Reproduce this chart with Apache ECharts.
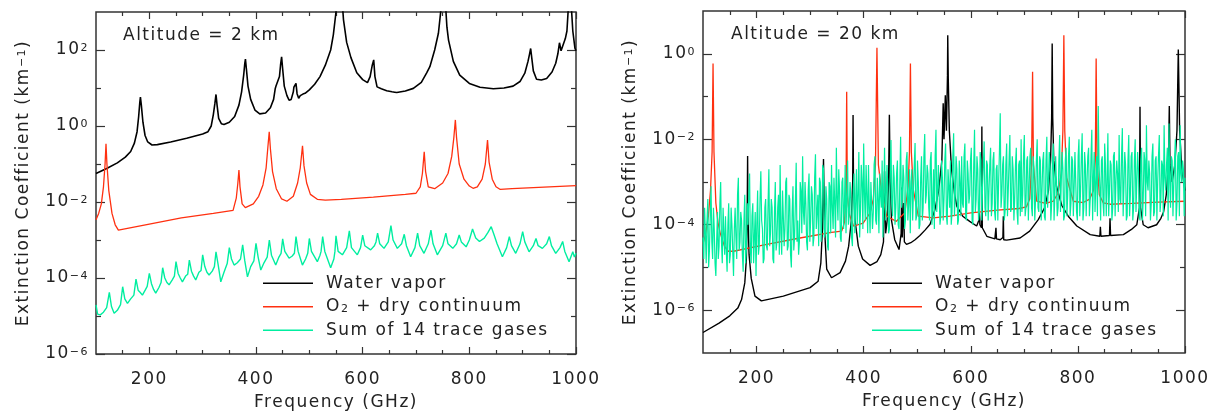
<!DOCTYPE html>
<html><head><meta charset="utf-8">
<script src="https://cdn.jsdelivr.net/npm/echarts@6.0.0/dist/echarts.min.js"></script>
<style>html,body{margin:0;padding:0;background:#fff}#c{width:1216px;height:412px}</style>
</head><body><div id="c"></div>
<script>
// ---------- DATA (frequency GHz, log10 of extinction coefficient km^-1) ----------
const panelTitles = ['Altitude = 2 km', 'Altitude = 20 km'];
const seriesNames = ['Water vapor', 'O2 + dry continuum', 'Sum of 14 trace gases'];
const xMajorTicks = [200, 400, 600, 800, 1000];
const xMinorTicks = [150, 250, 300, 350, 450, 500, 550, 650, 700, 750, 850, 900, 950];
const yMajorTicks2 = [1e-6, 1e-4, 1e-2, 1, 1e2];
const yMinorTicks2 = [1e-5, 1e-3, 1e-1, 10];
const yMajorTicks20 = [1e-6, 1e-4, 1e-2, 1];
const yMinorTicks20 = [1e-5, 1e-3, 1e-1];

// Altitude 2 km
const wv2 = [[100,-1.25],[120,-1.12],[140,-0.97],[155,-0.82],[165,-0.67],[172,-0.45],[177,-0.15],[180,0.25],[182,0.6],[183.3,0.76],[185,0.55],[188,0.1],[192,-0.25],[197,-0.42],[205,-0.5],[215,-0.49],[240,-0.42],[270,-0.32],[300,-0.21],[310,-0.15],[316,0.0],[320,0.3],[323,0.6],[325,0.83],[327,0.55],[330,0.2],[335,0.06],[340,0.04],[350,0.1],[360,0.25],[368,0.55],[373,0.9],[377,1.35],[379,1.65],[380.2,1.76],[382,1.5],[385,1.05],[390,0.7],[398,0.42],[407,0.32],[418,0.34],[427,0.48],[433,0.7],[436,0.98],[437.5,1.05],[440,1.0],[444,1.3],[446,1.6],[448,1.82],[450,1.5],[453,1.05],[458,0.8],[462,0.68],[466,0.7],[470,0.9],[471,1.02],[473,0.98],[475,1.12],[477,0.85],[480,0.73],[483,0.8],[488,0.84],[492,0.86],[500,0.95],[510,1.1],[520,1.3],[530,1.6],[540,2.0],[545,2.4],[550,3.0],[554,3.6],[557,4.0],[560,3.6],[564,2.8],[570,2.2],[578,1.8],[589,1.4],[600,1.22],[609,1.14],[614,1.3],[618,1.6],[620.7,1.74],[623,1.3],[627,1.03],[635,0.98],[645,0.93],[655,0.9],[658,0.93],[660,0.89],[664,0.88],[680,0.92],[695,0.99],[710,1.15],[720,1.4],[726,1.56],[735,2.0],[742,2.44],[747,3.1],[751,3.8],[752,4.0],[754,3.5],[758,2.6],[761,2.26],[770,1.7],[782,1.34],[800,1.12],[820,1.02],[845,0.98],[865,1.0],[882,1.05],[895,1.17],[904,1.39],[910,1.7],[913,1.9],[915,2.04],[917,1.8],[920,1.45],[926,1.23],[935,1.21],[945,1.25],[955,1.42],[962,1.65],[966,1.9],[969,2.19],[972,1.98],[975,1.96],[980,2.3],[983,2.5],[986,3.2],[988,4.0],[991,3.2],[994,2.5],[998,2.05],[1000,1.98]];
const o22 = [[100,-2.47],[105,-2.3],[110,-2.05],[114,-1.6],[117,-1.0],[118.75,-0.47],[120.5,-1.0],[124,-1.7],[130,-2.3],[136,-2.6],[142,-2.74],[200,-2.58],[260,-2.42],[320,-2.3],[357,-2.22],[363,-1.9],[366,-1.5],[368,-1.16],[370,-1.6],[374,-2.05],[380,-2.15],[395,-2.05],[405,-1.85],[413,-1.55],[419,-1.1],[422,-0.6],[424.8,-0.15],[427,-0.6],[431,-1.2],[438,-1.65],[448,-1.92],[458,-1.98],[470,-1.85],[478,-1.5],[483,-1.1],[487.2,-0.52],[490,-1.05],[495,-1.5],[502,-1.8],[515,-1.93],[530,-1.95],[560,-1.93],[620,-1.87],[680,-1.8],[700,-1.77],[708,-1.6],[712,-1.25],[715.4,-0.68],[718,-1.2],[723,-1.6],[735,-1.65],[750,-1.5],[760,-1.25],[767,-0.8],[771,-0.3],[773.8,0.16],[776,-0.3],[781,-1.0],[790,-1.4],[800,-1.58],[807,-1.64],[815,-1.6],[824,-1.4],[830,-1.0],[834.1,-0.37],[837,-0.95],[843,-1.4],[850,-1.6],[858,-1.67],[880,-1.65],[940,-1.61],[1000,-1.57]];
const tg2 = [[100,-4.71],[103,-4.95],[108,-4.97],[114,-4.9],[120,-4.78],[125,-4.38],[129,-4.75],[134,-4.93],[140,-4.85],[146,-4.7],[150,-4.23],[154,-4.55],[159,-4.67],[165,-4.55],[171,-4.45],[175,-4.03],[179,-4.32],[183,-4.38],[187,-4.45],[193,-4.3],[196,-4.22],[200,-3.88],[204,-4.15],[208,-4.3],[212,-4.4],[218,-4.25],[222,-4.12],[225,-3.73],[229,-4.0],[233,-4.12],[237,-4.18],[243,-4.05],[247,-3.95],[250,-3.57],[254,-3.88],[258,-4.0],[262,-4.1],[268,-3.95],[272,-3.9],[275,-3.53],[279,-3.82],[283,-3.95],[287,-4.05],[293,-3.85],[297,-3.8],[300,-3.39],[304,-3.7],[308,-3.85],[312,-3.92],[318,-3.82],[322,-3.7],[325,-3.31],[329,-3.65],[334,-4.1],[340,-3.85],[346,-3.62],[350,-3.2],[354,-3.5],[359,-3.66],[365,-3.6],[371,-3.5],[375,-3.13],[379,-3.55],[384,-3.97],[390,-3.7],[396,-3.55],[400,-3.09],[404,-3.45],[409,-3.79],[415,-3.6],[421,-3.45],[425,-3.0],[429,-3.4],[437,-3.66],[443,-3.45],[447,-3.35],[450,-2.97],[454,-3.3],[462,-3.48],[468,-3.42],[472,-3.35],[475,-2.91],[479,-3.3],[487,-3.66],[493,-3.5],[497,-3.35],[500,-2.96],[504,-3.3],[515,-3.57],[520,-3.4],[522,-3.3],[525,-2.91],[529,-3.3],[540,-3.73],[546,-3.5],[548,-3.3],[550,-2.89],[554,-3.3],[562,-3.39],[570,-3.2],[575,-2.76],[579,-3.2],[590,-3.39],[596,-3.2],[600,-2.87],[604,-3.15],[615,-3.26],[622,-3.15],[625,-3.05],[628,-2.82],[632,-3.1],[640,-3.22],[648,-3.05],[653,-2.62],[657,-3.0],[665,-3.22],[673,-3.1],[678,-2.85],[682,-3.15],[690,-3.44],[698,-3.2],[703,-2.82],[707,-3.15],[715,-3.35],[723,-3.1],[728,-2.74],[732,-3.1],[740,-3.39],[750,-3.15],[756,-2.82],[760,-3.1],[769,-3.22],[776,-3.1],[781,-2.87],[785,-3.05],[794,-3.18],[800,-3.0],[806,-2.71],[812,-2.95],[819,-3.04],[828,-2.95],[835,-2.8],[841,-2.65],[846,-2.85],[852,-3.1],[862,-3.44],[870,-3.2],[875,-2.91],[879,-3.15],[887,-3.35],[895,-3.1],[900,-2.78],[904,-3.05],[912,-3.31],[920,-3.15],[925,-2.96],[929,-3.15],[937,-3.22],[945,-3.1],[950,-2.91],[954,-3.15],[962,-3.35],[970,-3.2],[975,-3.04],[979,-3.3],[987,-3.57],[994,-3.31],[997,-3.45],[1000,-3.35]];

// Altitude 20 km
const wv20 = [[100,-6.52],[130,-6.3],[150,-6.13],[165,-5.95],[172,-5.75],[178,-5.36],[181,-4.8],[182.5,-3.8],[183.3,-2.39],[184,-3.8],[186,-4.7],[190,-5.25],[197,-5.67],[209,-5.78],[250,-5.67],[300,-5.47],[315,-5.32],[320,-4.9],[323,-4.1],[325,-2.46],[327,-4.1],[331,-5.04],[340,-5.24],[356,-5.12],[366,-4.85],[372,-4.5],[377,-3.9],[379.5,-3.0],[380.2,-1.43],[381,-3.0],[384,-3.9],[390,-4.5],[398,-4.8],[412,-4.95],[425,-4.86],[432,-4.7],[437,-4.4],[439,-2.75],[441,-4.2],[444,-3.9],[446.5,-3.0],[448,-1.43],[449.5,-3.0],[452,-3.9],[458,-4.35],[466,-4.58],[470,-4.2],[471,-3.13],[472,-4.3],[474,-4.3],[474.7,-3.49],[476,-4.4],[480,-4.46],[488,-4.42],[496,-4.35],[505,-4.25],[515,-4.12],[524,-3.99],[533,-3.65],[540,-3.2],[546,-2.5],[548.5,-1.16],[550,-2.0],[552.5,-0.97],[554.5,-1.8],[556.5,-0.5],[557,0.43],[558,-0.6],[560,-1.8],[564,-2.7],[570,-3.3],[574,-3.57],[585,-3.8],[598,-3.92],[611,-4.03],[615,-3.9],[616,-3.72],[617,-4.0],[620,-4.07],[620.7,-1.70],[621.5,-4.07],[630,-4.27],[645,-4.33],[647,-4.07],[648,-4.33],[655,-4.35],[660,-4.3],[660.8,-3.8],[661.5,-4.35],[667,-4.36],[692,-4.31],[710,-4.15],[726,-3.88],[738,-3.6],[745,-3.2],[749,-2.5],[751,-1.5],[752,0.24],[753,-1.5],[755,-2.5],[760,-3.1],[770,-3.55],[782,-3.8],[798,-4.03],[823,-4.23],[841,-4.27],[842,-4.05],[843,-4.27],[859,-4.25],[860,-3.85],[861,-4.25],[885,-4.23],[900,-4.11],[910,-4.0],[915,-3.6],[916,-1.24],[917,-3.6],[922,-4.0],[931,-4.07],[947,-4.0],[955,-3.85],[960,-3.7],[965,-3.3],[969,-2.6],[970.7,-1.22],[972,-2.6],[976,-3.0],[981,-2.6],[985,-1.8],[987.5,0.1],[990,-1.8],[994,-2.7],[1000,-3.2]];
const o220 = [[100,-4.45],[105,-4.2],[110,-3.8],[114,-3.2],[117,-2.3],[118.75,-0.23],[120.5,-2.3],[124,-3.49],[128,-3.95],[132,-4.19],[140,-4.5],[147,-4.62],[157,-4.62],[219,-4.46],[281,-4.31],[340,-4.18],[359,-4.15],[364,-3.95],[367,-3.3],[368.3,-0.89],[369.5,-3.3],[373,-3.75],[381,-4.03],[399,-3.96],[412,-3.72],[418,-3.4],[422,-2.6],[424.8,0.14],[427.5,-2.6],[433,-3.18],[443,-3.8],[461,-3.92],[477,-3.72],[483,-3.1],[485.5,-2.3],[487.3,-0.23],[489,-2.3],[492.7,-3.18],[502,-3.8],[530,-3.84],[561,-3.8],[600,-3.72],[650,-3.66],[690,-3.62],[704,-3.58],[710,-3.4],[713.5,-2.6],[715.4,-0.42],[717,-2.6],[723,-3.45],[740,-3.5],[754,-3.45],[763,-3.26],[769,-2.8],[772,-1.8],[773.8,0.43],[775.5,-1.8],[779,-2.9],[791.5,-3.45],[810,-3.48],[822,-3.4],[829,-3.2],[832.5,-2.5],[834.1,-0.11],[835.7,-2.5],[840,-3.3],[847.5,-3.49],[860,-3.52],[900,-3.5],[950,-3.47],[1000,-3.45]];
// trace gases at 20 km: tg20A sampled at 100, 103, ... 1000 GHz; tg20B at the midpoints 101.5, 104.5, ... 998.5 GHz
const tg20Start = 100, tg20Step = 3;
const tg20A = [
-4.3,-3.6,-4.9,-3.4,-4.6,-3.1,-4.8,-4.1,-5.2,-3.7,-4.5,-3.0,-4.9,-4.2,-3.8,-5.1,-3.5,-4.7,-4.0,-5.2,
-3.6,-4.8,-2.9,-4.4,-3.9,-5.1,-3.3,-4.6,-4.0,-2.8,-4.9,-3.5,-4.3,-5.2,-3.2,-4.5,-2.75,-4.1,-4.8,-3.4,
-4.6,-2.7,-4.2,-3.6,-4.9,-3.0,-4.4,-3.3,-2.6,-4.7,-3.8,-4.1,-2.9,-4.5,-3.4,-5.0,-3.1,-4.3,-2.55,-3.9,
-4.4,-3.2,-2.4,-4.0,-3.5,-4.6,-2.8,-3.9,-3.3,-4.3,-2.35,-3.7,-4.5,-3.0,-3.8,-2.7,-4.2,-3.4,-4.6,-3.1,
-2.6,-4.1,-3.5,-2.2,-3.9,-3.2,-4.4,-2.9,-3.6,-4.2,-2.5,-3.8,-3.3,-4.5,-2.8,-3.5,-4.0,-2.3,-3.7,-3.0,
-2.1,-3.9,-3.3,-2.6,-4.2,-3.0,-3.7,-2.4,-4.0,-3.4,-2.8,-3.6,-4.3,-2.2,-3.5,-3.1,-4.1,-2.02,-3.8,-2.9,
-3.6,-2.5,-4.1,-1.94,-3.4,-2.9,-3.9,-2.3,-3.5,-4.2,-2.7,-3.2,-2.09,-3.8,-3.0,-4.0,-2.4,-3.6,-1.88,-3.3,
-2.8,-3.9,-2.3,-3.5,-4.1,-1.78,-3.2,-2.6,-3.8,-2.9,-3.4,-2.1,-4.0,-3.1,-2.5,-3.7,-1.86,-3.3,-2.7,-3.9,
-3.0,-2.4,-3.6,-2.1,-3.9,-2.8,-3.3,-2.2,-4.0,-1.78,-3.4,-2.7,-3.7,-2.5,-3.1,-2.05,-3.8,-2.6,-3.2,-2.2,
-3.5,-2.3,-3.9,-2.6,-3.0,-1.39,-3.3,-2.4,-3.7,-2.1,-3.2,-1.9,-3.6,-2.7,-3.4,-2.2,-4.0,-2.5,-2.0,-3.3,
-1.9,-3.6,-2.4,-3.1,-2.2,-3.8,-2.7,-3.4,-2.0,-3.7,-2.5,-3.2,-2.3,-3.9,-1.94,-3.0,-2.6,-3.5,-2.1,-3.3,
-2.4,-3.6,-1.9,-3.0,-2.7,-3.8,-2.2,-3.3,-1.94,-3.5,-2.5,-3.1,-2.3,-3.9,-2.0,-3.2,-1.86,-3.6,-2.6,-3.0,
-2.2,-3.4,-1.78,-2.9,-3.7,-2.4,-1.22,-3.1,-2.5,-3.5,-2.1,-3.8,-1.86,-3.2,-2.6,-3.6,-2.3,-3.0,-2.8,-1.9,
-3.5,-1.74,-3.1,-2.6,-3.8,-1.9,-3.3,-2.3,-3.6,-2.0,-3.0,-2.7,-3.9,-2.2,-3.4,-2.5,-1.67,-3.2,-2.8,-3.5,
-2.1,-3.7,-2.4,-3.0,-1.9,-3.4,-2.6,-1.67,-3.2,-2.2,-1.63,-3.6,-2.5,-3.1,-2.0,-3.5,-2.3,-1.67,-3.0,-2.7,
-2.9];
const tg20B = [
-4.8,-4.2,-3.9,-5.0,-3.8,-4.4,-3.6,-4.9,-4.4,-4.8,-3.5,-4.4,-3.6,-4.7,-4.6,-4.0,-4.9,-3.6,-4.6,-4.1,
-4.3,-3.3,-4.6,-3.7,-4.7,-3.9,-4.9,-3.5,-3.3,-4.6,-3.8,-4.9,-3.7,-4.0,-4.7,-3.4,-3.9,-4.9,-3.6,-4.5,
-3.5,-4.5,-3.4,-4.8,-3.7,-4.6,-3.6,-4.7,-4.2,-3.2,-4.5,-3.0,-4.6,-3.3,-4.7,-3.7,-4.6,-3.5,-4.4,-4.7,
-3.0,-4.2,-3.7,-3.0,-4.4,-3.2,-4.4,-3.1,-4.5,-2.9,-4.1,-3.3,-2.9,-4.4,-2.6,-4.3,-3.1,-4.5,-3.0,-4.2,
-3.6,-2.9,-4.3,-3.4,-2.7,-4.3,-3.0,-4.1,-2.6,-3.4,-4.0,-3.0,-4.3,-3.2,-4.2,-2.7,-3.3,-4.3,-2.6,-4.1,
-3.3,-2.6,-4.2,-3.6,-3.0,-4.1,-2.6,-3.9,-2.9,-4.2,-3.3,-2.5,-3.4,-3.9,-2.6,-4.2,-2.8,-3.5,-2.6,-4.0,
-2.8,-4.0,-3.0,-3.6,-2.6,-4.1,-2.5,-3.9,-2.7,-3.0,-3.9,-2.6,-3.9,-2.5,-4.1,-2.9,-3.9,-2.4,-3.5,-2.6,
-3.6,-2.5,-4.0,-2.7,-2.4,-3.7,-2.6,-4.0,-2.5,-3.9,-2.5,-3.8,-2.7,-3.6,-4.0,-2.4,-3.8,-2.4,-4.0,-2.5,
-3.8,-3.5,-2.4,-3.8,-2.5,-3.5,-2.5,-3.9,-2.6,-3.7,-2.4,-3.9,-2.3,-3.9,-2.6,-3.6,-2.5,-3.9,-2.6,-3.8,
-2.5,-3.7,-2.7,-3.9,-2.3,-3.6,-2.6,-3.9,-2.6,-3.8,-2.5,-3.7,-2.4,-3.9,-2.6,-3.7,-2.6,-3.8,-3.7,-2.4,
-3.8,-2.5,-3.9,-2.4,-3.6,-2.4,-3.9,-2.5,-3.6,-2.4,-3.9,-2.5,-3.8,-2.5,-3.6,-2.3,-3.9,-2.5,-3.9,-2.4,
-3.8,-2.5,-3.7,-2.3,-3.9,-2.5,-3.8,-2.4,-3.8,-2.4,-3.8,-2.3,-3.7,-2.4,-3.8,-2.4,-3.9,-2.3,-3.8,-2.4,
-3.8,-2.4,-3.9,-2.3,-3.0,-3.8,-2.6,-3.9,-2.4,-3.8,-2.6,-3.0,-3.8,-2.5,-3.9,-2.4,-3.8,-2.5,-3.7,-3.4,
-2.4,-3.8,-2.3,-3.9,-2.5,-3.8,-2.4,-3.9,-2.5,-3.7,-2.3,-3.8,-2.5,-3.9,-2.3,-3.8,-3.0,-2.5,-3.9,-2.4,
-3.8,-2.5,-3.9,-2.4,-3.7,-2.5,-3.8,-2.9,-2.6,-3.9,-3.0,-2.4,-3.8,-2.5,-3.9,-2.4,-3.8,-2.8,-2.5,-3.8];

// wider letter spacing (like the original plotting font), restored after each text call
(function(){
  const P = CanvasRenderingContext2D.prototype, LS = '1.5px';
  if (!('letterSpacing' in P)) return;
  const f = P.fillText, m = P.measureText;
  P.fillText = function(){ const o = this.letterSpacing; this.letterSpacing = LS; try { return f.apply(this, arguments); } finally { this.letterSpacing = o; } };
  P.measureText = function(){ const o = this.letterSpacing; this.letterSpacing = LS; try { return m.apply(this, arguments); } finally { this.letterSpacing = o; } };
})();

const FONT = 'DejaVu Sans', TXT = '#222', FS = 17, AX = '#333';
const toPts = arr => arr.map(p => [p[0], Math.pow(10, p[1])]);
const tg20Pts = [];
tg20A.forEach((e, i) => {
  tg20Pts.push([tg20Start + i * tg20Step, Math.pow(10, e)]);
  if (i < tg20B.length) tg20Pts.push([tg20Start + i * tg20Step + tg20Step / 2, Math.pow(10, tg20B[i])]);
});

const supRich = {
  b: {fontSize: FS, lineHeight: 16, fontFamily: FONT, color: TXT},
  s: {fontSize: 11, lineHeight: 11, verticalAlign: 'top', fontFamily: FONT, color: TXT}
};
function expLabel(v){
  const e = Math.round(Math.log10(v));
  return '{b|10}{s|' + (e < 0 ? '\u2212' + (-e) : String(e)) + '}';
}
const rects = [{left: 96, top: 12, width: 480, height: 342}, {left: 703, top: 11, width: 482, height: 342}];
const grids = [
  Object.assign({show: true, borderColor: AX, borderWidth: 1.5, backgroundColor: 'transparent', containLabel: false, outerBoundsMode: 'none'}, rects[0]),
  Object.assign({show: false, containLabel: false, outerBoundsMode: 'none'}, rects[0]),
  Object.assign({show: true, borderColor: AX, borderWidth: 1.5, backgroundColor: 'transparent', containLabel: false, outerBoundsMode: 'none'}, rects[1]),
  Object.assign({show: false, containLabel: false, outerBoundsMode: 'none'}, rects[1])
];
function xAx(grid, pos, ticks, len, withLabel){
  const a = {gridIndex: grid, type: 'value', position: pos, min: 100, max: 1000,
    splitLine: {show: false},
    axisLine: {show: false, onZero: false},
    axisTick: {show: true, inside: true, length: len, customValues: ticks, lineStyle: {color: AX, width: 1.2}},
    axisLabel: {show: false}};
  if (withLabel) {
    a.axisLabel = {show: true, customValues: ticks, formatter: v => String(v), fontSize: FS, fontFamily: FONT, color: TXT, margin: 16};
    a.name = 'Frequency (GHz)'; a.nameLocation = 'middle'; a.nameGap = 38;
    a.nameTextStyle = {fontSize: FS, fontFamily: FONT, color: TXT};
  }
  return a;
}
function yAx(grid, pos, ticks, len, min, max, withLabel){
  const a = {gridIndex: grid, type: 'log', logBase: 10, position: pos, min: min, max: max,
    splitLine: {show: false},
    axisLine: {show: false, onZero: false},
    axisTick: {show: true, inside: true, length: len, customValues: ticks, lineStyle: {color: AX, width: 1.2}},
    axisLabel: {show: false}};
  if (withLabel) {
    a.axisLabel = {show: true, customValues: ticks, formatter: expLabel, rich: supRich, margin: 7, fontSize: FS, fontFamily: FONT, color: TXT};
    a.name = '{b|Extinction Coefficient (km}{s|\u22121}{b|)}'; a.nameLocation = 'middle'; a.nameGap = 64;
    a.nameTextStyle = {fontSize: FS, fontFamily: FONT, color: TXT, rich: supRich};
  }
  return a;
}
const xAxis = [
  xAx(0, 'bottom', xMajorTicks, 7, true), xAx(0, 'top', xMajorTicks, 7, false),
  xAx(1, 'bottom', xMinorTicks, 4, false), xAx(1, 'top', xMinorTicks, 4, false),
  xAx(2, 'bottom', xMajorTicks, 7, true), xAx(2, 'top', xMajorTicks, 7, false),
  xAx(3, 'bottom', xMinorTicks, 4, false), xAx(3, 'top', xMinorTicks, 4, false)
];
const yAxis = [
  yAx(0, 'left', yMajorTicks2, 9, 1e-6, 1e3, true), yAx(0, 'right', yMajorTicks2, 9, 1e-6, 1e3, false),
  yAx(1, 'left', yMinorTicks2, 5, 1e-6, 1e3, false), yAx(1, 'right', yMinorTicks2, 5, 1e-6, 1e3, false),
  yAx(2, 'left', yMajorTicks20, 9, 1e-7, 1e1, true), yAx(2, 'right', yMajorTicks20, 9, 1e-7, 1e1, false),
  yAx(3, 'left', yMinorTicks20, 5, 1e-7, 1e1, false), yAx(3, 'right', yMinorTicks20, 5, 1e-7, 1e1, false)
];
const COLORS = ['#000000', '#ff3010', '#00eea0'];
const WIDTHS = [1.6, 1.3, 1.4];
function ser(idx, axis, data, w){
  return {type: 'line', name: seriesNames[idx], xAxisIndex: axis, yAxisIndex: axis, data: data,
    symbol: 'none', showSymbol: false, clip: true, animation: false,
    lineStyle: {color: COLORS[idx], width: w || WIDTHS[idx]}, itemStyle: {color: COLORS[idx]}};
}
const series = [
  ser(0, 0, toPts(wv2)), ser(1, 0, toPts(o22)), ser(2, 0, toPts(tg2)),
  ser(0, 4, toPts(wv20), 1.4), ser(1, 4, toPts(o220)), ser(2, 4, tg20Pts, 1.2)
];
function legendAt(left, top){
  return {left: left, top: top, padding: 0, orient: 'vertical', itemWidth: 50, itemHeight: 1.6, itemGap: 5,
    icon: 'rect', selectedMode: false, data: seriesNames,
    formatter: n => n.replace('O2', 'O{sub|2}'),
    textStyle: {fontSize: FS, fontFamily: FONT, color: TXT, lineHeight: 18, padding: [0, 0, 0, 8],
      rich: {sub: {fontSize: 11, lineHeight: 8, verticalAlign: 'bottom', fontFamily: FONT, color: TXT}}}};
}
const option = {
  backgroundColor: '#fff',
  animation: false,
  title: [
    {text: panelTitles[0], left: 123, top: 26, padding: 0, textStyle: {fontSize: FS, fontWeight: 'normal', fontFamily: FONT, color: TXT}},
    {text: panelTitles[1], left: 731, top: 25, padding: 0, textStyle: {fontSize: FS, fontWeight: 'normal', fontFamily: FONT, color: TXT}}
  ],
  legend: [legendAt(263, 274), legendAt(872, 274)],
  grid: grids, xAxis: xAxis, yAxis: yAxis, series: series
};
const chart = echarts.init(document.getElementById('c'), null, {renderer: 'canvas'});
chart.setOption(option);
</script></body></html>
